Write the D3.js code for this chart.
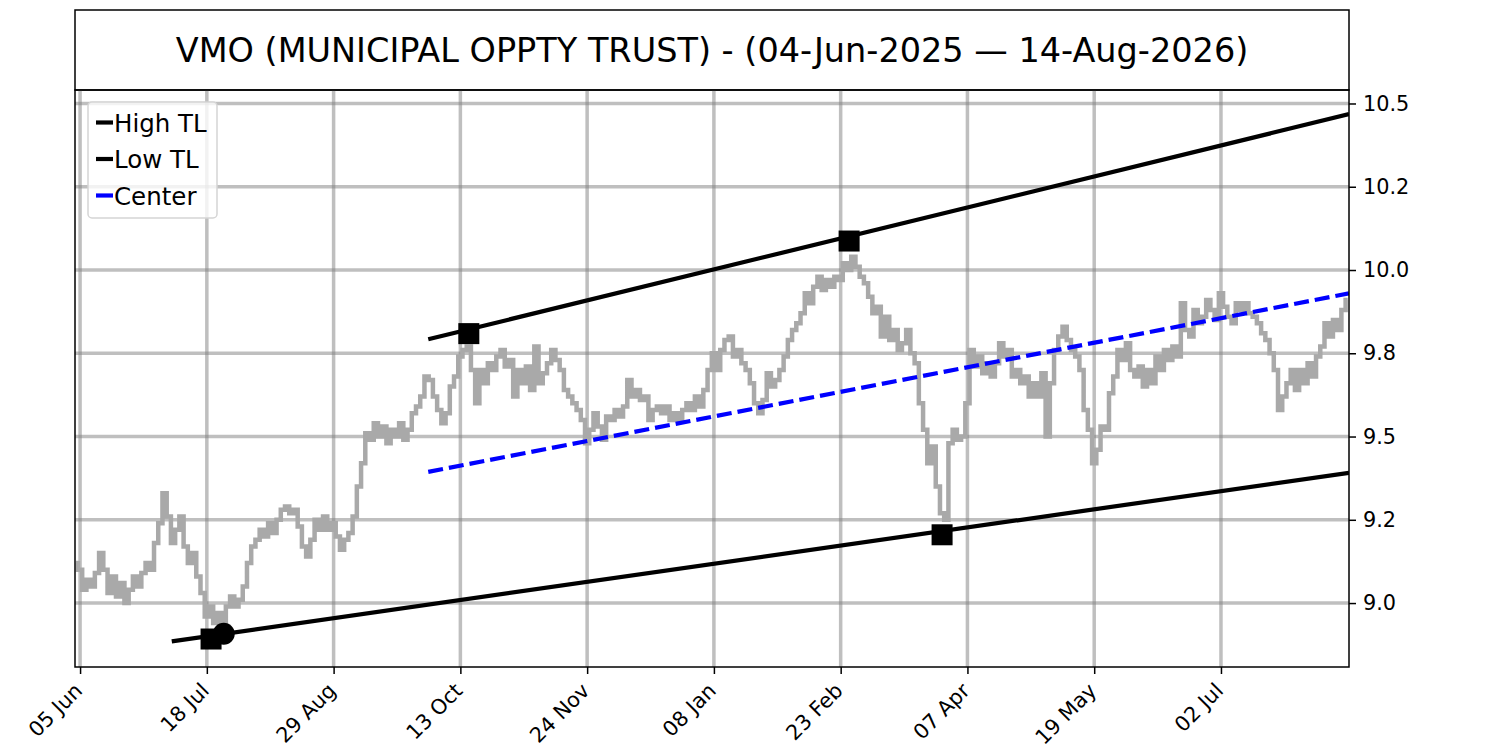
<!DOCTYPE html>
<html>
<head>
<meta charset="utf-8">
<script src="https://cdn.jsdelivr.net/npm/d3@7"></script>
<style>
  body { margin: 0; background: #fff; }
  svg { font-family: 'DejaVu Sans', sans-serif; }
</style>
</head>
<body>
<svg id="chart"></svg>
<script>
// closing prices, one per trading row (index 0 = 04 Jun 2025)
const prices = [
  9.12, 9.10, 9.04, 9.07, 9.05, 9.09, 9.15, 9.10, 9.03, 9.08,
  9.02, 9.06, 9.00, 9.04, 9.08, 9.05, 9.09, 9.12, 9.10, 9.18,
  9.24, 9.33, 9.26, 9.18, 9.22, 9.26, 9.17, 9.12, 9.15, 9.08,
  9.03, 8.96, 8.99, 8.94, 8.97, 8.93, 8.99, 9.02, 8.99, 9.01,
  9.05, 9.12, 9.17, 9.19, 9.22, 9.20, 9.24, 9.21, 9.25, 9.28,
  9.29, 9.27, 9.28, 9.23, 9.17, 9.14, 9.19, 9.25, 9.22, 9.26,
  9.22, 9.24, 9.20, 9.16, 9.19, 9.21, 9.26, 9.35, 9.42, 9.51,
  9.49, 9.54, 9.50, 9.53, 9.48, 9.52, 9.50, 9.54, 9.49, 9.52,
  9.57, 9.59, 9.62, 9.68, 9.67, 9.62, 9.58, 9.54, 9.57, 9.65,
  9.68, 9.74, 9.76, 9.77, 9.70, 9.60, 9.70, 9.66, 9.72, 9.70,
  9.74, 9.76, 9.71, 9.73, 9.62, 9.70, 9.66, 9.71, 9.64, 9.77,
  9.66, 9.69, 9.72, 9.76, 9.73, 9.70, 9.64, 9.62, 9.60, 9.58,
  9.55, 9.48, 9.52, 9.57, 9.53, 9.49, 9.56, 9.55, 9.58, 9.56,
  9.59, 9.67, 9.62, 9.64, 9.61, 9.62, 9.55, 9.58, 9.59, 9.57,
  9.59, 9.55, 9.57, 9.55, 9.58, 9.60, 9.58, 9.62, 9.59, 9.64,
  9.70, 9.75, 9.70, 9.76, 9.79, 9.80, 9.74, 9.76, 9.72, 9.70,
  9.66, 9.60, 9.57, 9.61, 9.69, 9.65, 9.67, 9.70, 9.74, 9.79,
  9.82, 9.84, 9.87, 9.93, 9.90, 9.95, 9.98, 9.94, 9.97, 9.95,
  9.98, 9.97, 10.02, 10.00, 10.04, 10.01, 9.98, 9.96, 9.92, 9.87,
  9.89, 9.80, 9.86, 9.79, 9.82, 9.76, 9.78, 9.82, 9.75, 9.72,
  9.60, 9.52, 9.42, 9.47, 9.35, 9.27, 9.25, 9.48, 9.52, 9.49,
  9.50, 9.60, 9.76, 9.71, 9.74, 9.69, 9.72, 9.68, 9.72, 9.78,
  9.74, 9.76, 9.68, 9.70, 9.66, 9.68, 9.62, 9.66, 9.62, 9.69,
  9.50, 9.66, 9.76, 9.80, 9.83, 9.79, 9.76, 9.74, 9.70, 9.58,
  9.52, 9.42, 9.46, 9.53, 9.52, 9.63, 9.68, 9.76, 9.73, 9.78,
  9.70, 9.68, 9.71, 9.65, 9.70, 9.66, 9.74, 9.70, 9.76, 9.73,
  9.77, 9.74, 9.90, 9.82, 9.80, 9.88, 9.84, 9.86, 9.91, 9.88,
  9.85, 9.93, 9.89, 9.86, 9.84, 9.90, 9.88, 9.90, 9.87, 9.86,
  9.84, 9.81, 9.79, 9.75, 9.70, 9.58, 9.62, 9.66, 9.70, 9.64,
  9.70, 9.66, 9.72, 9.68, 9.74, 9.77, 9.84, 9.80, 9.85, 9.82,
  9.88, 9.91
];

// trend lines as [index, value] end points
const highTL = [[83.4, 9.792], [301.3, 10.468]];
const lowTL = [[22.7, 8.885], [301.3, 9.391]];
const centerTL = [[83.4, 9.394], [301.3, 9.930]];

// pivots
const highPivots = [[93, 9.809], [183, 10.087]];
const lowPivots = [[32, 8.892], [205, 9.205]];
const lowAnchor = [[35, 8.908]];

const xTicks = [1, 31, 61, 91, 121, 151, 181, 211, 241, 271];
const xTickLabels = ['05 Jun', '18 Jul', '29 Aug', '13 Oct', '24 Nov',
  '08 Jan', '23 Feb', '07 Apr', '19 May', '02 Jul'];
const yTicks = [9.0, 9.25, 9.5, 9.75, 10.0, 10.25, 10.5];
const yTickLabels = ['9.0', '9.2', '9.5', '9.8', '10.0', '10.2', '10.5'];

const legendItems = [
  { label: 'High TL', color: '#000000' },
  { label: 'Low TL', color: '#000000' },
  { label: 'Center', color: '#0000ff' }
];

const title = 'VMO (MUNICIPAL OPPTY TRUST) - (04-Jun-2025 \u2014 14-Aug-2026)';

function drawChart() {
  let width = 1500,
    height = 750,
    pLeft = 75,
    pRight = 1349,
    pTop = 90,
    pBottom = 667;

  let svg = d3.select('#chart').attr('width', width).attr('height', height);

  let x = d3.scaleLinear().domain([-0.2, 301.3]).range([pLeft, pRight]);
  let y = d3.scaleLinear().domain([8.808, 10.5405]).range([pBottom, pTop]);

  svg.append('defs').append('clipPath').attr('id', 'plot')
    .append('rect')
    .attr('x', pLeft).attr('y', pTop)
    .attr('width', pRight - pLeft).attr('height', pBottom - pTop);

  // title box
  svg.append('rect')
    .attr('x', pLeft).attr('y', 10)
    .attr('width', pRight - pLeft).attr('height', pTop - 10)
    .attr('fill', 'none').attr('stroke', '#000').attr('stroke-width', 1.5);
  svg.append('text')
    .attr('x', (pLeft + pRight) / 2).attr('y', 62)
    .attr('text-anchor', 'middle')
    .attr('font-size', 33.5)
    .text(title);

  let plot = svg.append('g').attr('clip-path', 'url(#plot)');

  // grid
  plot.selectAll('.hgrid').data(yTicks).enter()
    .append('line').classed('hgrid', true)
    .attr('x1', pLeft).attr('x2', pRight)
    .attr('y1', d => y(d)).attr('y2', d => y(d))
    .attr('stroke', '#808080').attr('stroke-opacity', 0.5).attr('stroke-width', 3.5);
  plot.selectAll('.vgrid').data(xTicks).enter()
    .append('line').classed('vgrid', true)
    .attr('y1', pTop).attr('y2', pBottom)
    .attr('x1', d => x(d)).attr('x2', d => x(d))
    .attr('stroke', '#808080').attr('stroke-opacity', 0.5).attr('stroke-width', 3.5);

  // price
  let priceLine = d3.line()
    .x((d, i) => x(i))
    .y(d => y(d))
    .curve(d3.curveStep);
  plot.append('path')
    .datum(prices)
    .attr('d', priceLine)
    .attr('fill', 'none')
    .attr('stroke', '#a9a9a9')
    .attr('stroke-width', 4.5);

  let seg = d3.line().x(d => x(d[0])).y(d => y(d[1]));

  plot.append('path').datum(highTL).attr('d', seg)
    .attr('fill', 'none').attr('stroke', '#000').attr('stroke-width', 4.2);
  plot.append('path').datum(lowTL).attr('d', seg)
    .attr('fill', 'none').attr('stroke', '#000').attr('stroke-width', 4.2);
  plot.append('path').datum(centerTL).attr('d', seg)
    .attr('fill', 'none').attr('stroke', '#0000ff').attr('stroke-width', 4.2)
    .attr('stroke-dasharray', '15,6');

  let sq = 21;
  plot.selectAll('.pivot').data(highPivots.concat(lowPivots)).enter()
    .append('rect').classed('pivot', true)
    .attr('x', d => x(d[0]) - sq / 2).attr('y', d => y(d[1]) - sq / 2)
    .attr('width', sq).attr('height', sq)
    .attr('fill', '#000');
  plot.selectAll('.anchor').data(lowAnchor).enter()
    .append('circle').classed('anchor', true)
    .attr('cx', d => x(d[0])).attr('cy', d => y(d[1]))
    .attr('r', 11).attr('fill', '#000');

  // axes
  let yAxis = d3.axisRight(y)
    .tickValues(yTicks)
    .tickSize(7)
    .tickPadding(7)
    .tickFormat((d, i) => yTickLabels[i]);
  let gy = svg.append('g').attr('transform', 'translate(' + pRight + ',0)').call(yAxis);
  gy.select('.domain').remove();
  gy.selectAll('line').attr('stroke', '#000').attr('stroke-width', 1.5);
  gy.selectAll('text').attr('font-size', 20.8).attr('fill', '#000')
    .attr('font-family', "'DejaVu Sans', sans-serif");

  let xAxis = d3.axisBottom(x)
    .tickValues(xTicks)
    .tickSize(7)
    .tickFormat((d, i) => xTickLabels[i]);
  let gx = svg.append('g').attr('transform', 'translate(0,' + pBottom + ')').call(xAxis);
  gx.select('.domain').remove();
  gx.selectAll('line').attr('stroke', '#000').attr('stroke-width', 1.5);
  gx.selectAll('text')
    .attr('font-size', 20.8).attr('fill', '#000')
    .attr('font-family', "'DejaVu Sans', sans-serif")
    .attr('text-anchor', 'end')
    .attr('dy', null)
    .attr('y', 0)
    .attr('transform', 'translate(3,25) rotate(-45)');

  // frame
  svg.append('rect')
    .attr('x', pLeft).attr('y', pTop)
    .attr('width', pRight - pLeft).attr('height', pBottom - pTop)
    .attr('fill', 'none').attr('stroke', '#000').attr('stroke-width', 1.5);

  // legend
  let legend = svg.append('g');
  legend.append('rect')
    .attr('x', 88).attr('y', 102)
    .attr('width', 129).attr('height', 116)
    .attr('rx', 4)
    .attr('fill', '#fff').attr('fill-opacity', 0.8)
    .attr('stroke', '#d5d5d5').attr('stroke-width', 1.5);
  let rows = legend.selectAll('.row').data(legendItems).enter()
    .append('g').classed('row', true)
    .attr('transform', (d, i) => 'translate(0,' + (122.5 + i * 36.5) + ')');
  rows.append('line')
    .attr('x1', 96).attr('x2', 113)
    .attr('stroke', d => d.color).attr('stroke-width', 4.2);
  rows.append('text')
    .attr('x', 114).attr('y', 9)
    .attr('font-size', 24.5)
    .text(d => d.label);
}

drawChart();
</script>
</body>
</html>
